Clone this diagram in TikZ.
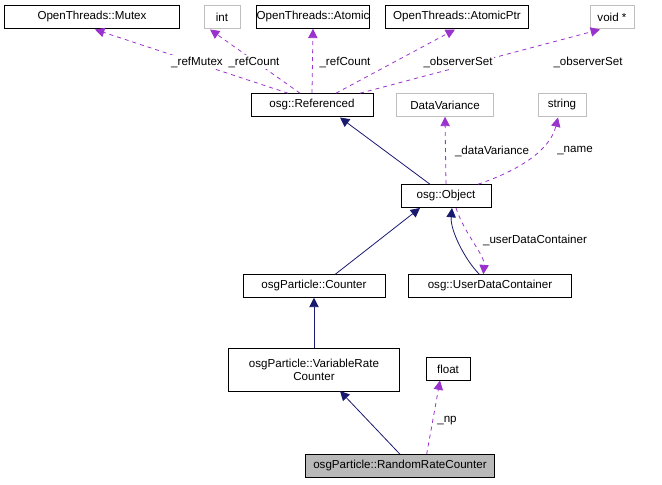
\documentclass[tikz,border=0pt]{standalone}
\usepackage{fontspec}
\setmainfont{Liberation Sans}
\usetikzlibrary{arrows.meta}
\definecolor{nav}{HTML}{191970}
\definecolor{pur}{HTML}{9A32CD}
\begin{document}
\begin{tikzpicture}[x=0.75pt,y=-0.75pt,
  box/.style={draw=black,fill=white,inner sep=0pt,minimum height=17.25pt,font=\fontsize{8.7}{10}\selectfont,align=center},
  gbox/.style={box,draw=gray!50,text=black},
  inh/.style={draw=nav,semithick,-{Triangle[length=7pt,width=7pt]}},
  use/.style={draw=pur,semithick,dashed,-{Triangle[length=7pt,width=7pt]}},
  lab/.style={font=\fontsize{8.7}{10}\selectfont,fill=white,inner sep=1pt}]
\useasboundingbox (0,0) rectangle (662,485);
\node[box,minimum width=131pt] (mutex) at (92,17) {OpenThreads::Mutex};
\node[gbox,minimum width=27pt] (int) at (222,17) {int};
\node[box,minimum width=75pt] (atomic) at (313,17) {OpenThreads::Atomic};
\node[box,minimum width=107pt] (aptr) at (457,17) {OpenThreads::AtomicPtr};
\node[gbox,minimum width=33pt] (void) at (612,17) {void *};
\node[box,minimum width=91.5pt] (ref) at (312,105) {osg::Referenced};
\node[gbox,minimum width=72.75pt] (dv) at (445,105) {DataVariance};
\node[gbox,minimum width=36pt] (str) at (562,105) {string};
\node[box,minimum width=67.5pt] (obj) at (446,196) {osg::Object};
\node[box,minimum width=106.5pt] (cnt) at (314,286) {osgParticle::Counter};
\node[box,minimum width=122.25pt] (udc) at (490,286) {osg::UserDataContainer};
\node[box,minimum width=128.25pt,minimum height=32.25pt] (vrc) at (314,370) {osgParticle::VariableRate\\Counter};
\node[box,minimum width=33pt] (flt) at (448,369) {float};
\node[box,fill=gray!55,minimum width=141.75pt] (rrc) at (400,466) {osgParticle::RandomRateCounter};
% uses
\draw[use] ([xshift=28pt]ref.north west) -- (95,29.5);
\draw[use] ([xshift=37pt]ref.north west) -- (210,29.5);
\draw[use] (ref.north) -- (atomic.south);
\draw[use] ([xshift=-28pt]ref.north east) -- (455,29.5);
\draw[use] ([xshift=-10pt]ref.north east) -- (600,29.5);
\node[lab] at (197,62) {\_refMutex};
\node[lab] at (254,62) {\_refCount};
\node[lab] at (345,62) {\_refCount};
\node[lab] at (458,62) {\_observerSet};
\node[lab] at (588,62) {\_observerSet};
% Object
\draw[inh] ([xshift=-12pt]obj.north) -- (340,117.5);
\draw[use] (obj.north) -- (dv.south);
\draw[use] ([xshift=24pt]obj.north) .. controls (520,170) and (550,150) .. (558,117.5);
\node[lab] at (492,151) {\_dataVariance};
\node[lab] at (575,151) {\_name};
\draw[inh] ([xshift=16pt]cnt.north) -- (420,208);
\draw[inh] ([xshift=-8pt]udc.north) .. controls (465,260) and (450,230) .. (452,208);
\draw[use] (456,208) .. controls (465,235) and (485,255) .. ([xshift=-5pt]udc.north);
\node[lab,fill=none] at (535,240) {\_userDataContainer};
\draw[inh] (vrc.north) -- (cnt.south);
\draw[inh] (rrc.north) -- (340,391);
\draw[use] ([xshift=20pt]rrc.north) -- (440,380.5);
\node[lab,fill=none] at (447,421) {\_np};
\end{tikzpicture}
\end{document}
